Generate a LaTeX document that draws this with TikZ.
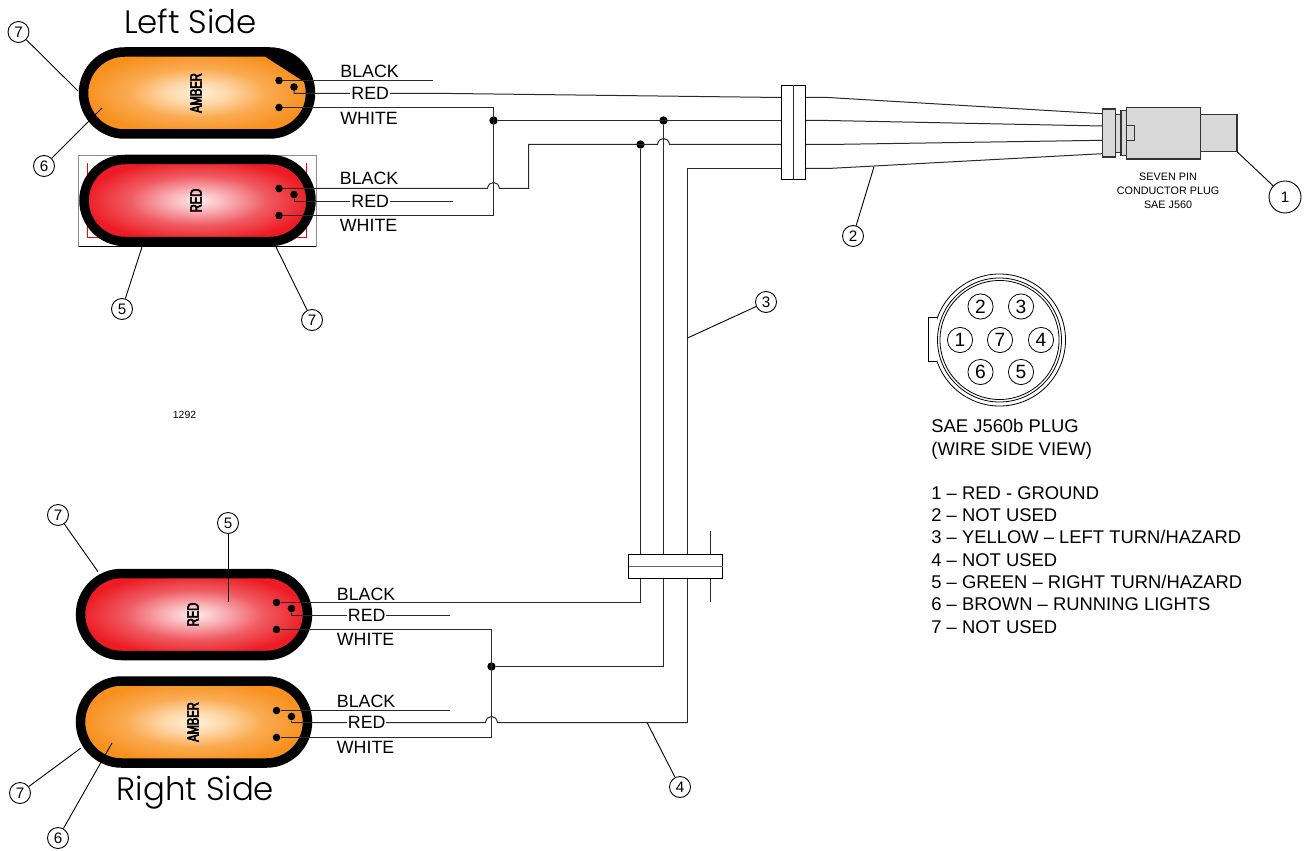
\documentclass[tikz,border=0pt]{standalone}
\usepackage{fontspec}
\usepackage{tikz}
\setmainfont{Liberation Sans}
\newfontfamily\gothicfont{Poppins Light}
\newfontfamily\lampfont[FakeStretch=0.68,FakeBold=4]{Liberation Sans}
\definecolor{wirecol}{HTML}{2A2A2A}
\definecolor{plugcol}{HTML}{D9D9D9}
\pgfdeclareradialshading{amberglow}{\pgfpointorigin}{rgb(0bp)=(1,.945,.87);rgb(7bp)=(.995,.84,.65);rgb(15bp)=(.98,.67,.32);rgb(25bp)=(.97,.565,.12);rgb(50bp)=(.97,.565,.12)}
\pgfdeclareradialshading{redglow}{\pgfpointorigin}{rgb(0bp)=(.995,.93,.935);rgb(7bp)=(.97,.68,.70);rgb(15bp)=(.94,.36,.39);rgb(25bp)=(.93,.11,.14);rgb(50bp)=(.93,.11,.14)}
\newcommand{\hopat}[2]{-- (#1-6,#2) .. controls (#1-5,#2-8) and (#1+5,#2-8) .. (#1+6,#2) --}
\tikzset{
  lamp/.style={draw=black,line width=4.75pt,rounded corners=20.5pt,minimum width=113.5pt,
    minimum height=41pt,inner sep=0pt,outer sep=0pt},
  amberlamp/.style={lamp,shade,shading=amberglow},
  redlamp/.style={lamp,shade,shading=redglow},
  lamptext/.style={rotate=90,font=\lampfont\fontsize{8.2}{8.2}\selectfont},
  wire/.style={draw=wirecol,line width=0.5pt},
  leader/.style={draw=black,line width=0.45pt},
  contact/.style={circle,fill=black,inner sep=0pt,minimum size=3.8pt},
  junction/.style={circle,fill=black,inner sep=0pt,minimum size=4.2pt},
  balloon/.style={circle,draw=black,line width=0.45pt,fill=white,inner sep=0pt,minimum size=10.5pt,
    font=\fontsize{7.6}{8}\selectfont},
  pin/.style={circle,draw=black,line width=0.4pt,inner sep=0pt,minimum size=12.6pt,
    font=\fontsize{9.6}{10}\selectfont},
  wirename/.style={anchor=west,inner sep=0pt,font=\fontsize{8.9}{10}\selectfont},
  redname/.style={wirename,fill=white,inner xsep=0.5pt},
  clamp/.style={draw=black,line width=0.5pt,fill=white,inner sep=0pt,outer sep=0pt},
  plugpart/.style={draw=black!80,line width=0.6pt,fill=plugcol,inner sep=0pt,outer sep=0pt},
}
\begin{document}
\begin{tikzpicture}[x=0.5pt,y=-0.5pt]
  \useasboundingbox (0,0) rectangle (1304,850);

  \node[anchor=center,font=\gothicfont\fontsize{16.2}{16.2}\selectfont] (lefttitle) at (190.5,21.5) {Left Side};
  \node[anchor=center,font=\gothicfont\fontsize{16.2}{16.2}\selectfont] (righttitle) at (195.5,793) {Right Side};

  % box behind the second lamp
  \draw[draw=black!45,line width=0.35pt] (78.5,155) -- (78.5,246.5);
  \draw[draw=black!45,line width=0.35pt] (78.5,155) -- (316,155) -- (316,246.5);
  \draw[draw=black,line width=0.4pt] (78.5,246.5) -- (316,246.5);
  \draw[draw=red,line width=0.35pt] (87.5,163.5) -- (87.5,237.3) -- (306.5,237.3) -- (306.5,163.5);

  % lamps
  \node[amberlamp] (ambL) at (197,93) {};
  \node[redlamp] (redL) at (197.5,200.5) {};
  \node[redlamp] (redR) at (194,614.5) {};
  \node[amberlamp] (ambR) at (194,722) {};
  \fill[black] (265,56.5) -- (306,83) -- (306,70) -- (296,62) -- (283,56.5) -- cycle;
  \node[lamptext] (ambLt) at (196,93) {AMBER};
  \node[lamptext] (redLt) at (196,200.5) {RED};
  \node[lamptext] (redRt) at (193,614.5) {RED};
  \node[lamptext] (ambRt) at (193,722) {AMBER};

  % contacts
  \node[contact] (bL1) at (279,80.5) {};
  \node[contact] (rL1) at (294,87) {};
  \node[contact] (wL1) at (279,107.5) {};
  \node[contact] (bL2) at (279,188.5) {};
  \node[contact] (rL2) at (294,194.5) {};
  \node[contact] (wL2) at (279,215.5) {};
  \node[contact] (bR1) at (276.5,602.5) {};
  \node[contact] (rR1) at (291.5,608.5) {};
  \node[contact] (wR1) at (276.5,629.5) {};
  \node[contact] (bR2) at (276.5,710.5) {};
  \node[contact] (rR2) at (291.5,716.5) {};
  \node[contact] (wR2) at (276.5,737.5) {};

  % junctions
  \node[junction] (j1) at (493.5,120.5) {};
  \node[junction] (j2) at (663.5,120.5) {};
  \node[junction] (j3) at (640.5,144.5) {};
  \node[junction] (j4) at (491.5,666.5) {};

  % ends of wires
  \coordinate (bL1e) at (433,80.5);
  \coordinate (rL1k) at (296,93.5);
  \coordinate (rL2k) at (296,201.5);
  \coordinate (rR1k) at (294,615.5);
  \coordinate (rR2k) at (294,722.5);
  \coordinate (rL1m) at (452,93.5);
  \coordinate (rL2e) at (452.5,201.5);
  \coordinate (rR1e) at (450,615.5);
  \coordinate (bR2e) at (450,710.5);
  \coordinate (gl1) at (781,97.5);
  \coordinate (gl2) at (781,120.5);
  \coordinate (gl3) at (781,144.5);
  \coordinate (gl4) at (781,168.5);
  \coordinate (gm1) at (828,97.5);
  \coordinate (gm2) at (828,120.5);
  \coordinate (gm3) at (828,144.5);
  \coordinate (gm4) at (828,168.5);
  \coordinate (pl1) at (1102,113.7);
  \coordinate (pl2) at (1102,126);
  \coordinate (pl3) at (1102,140.3);
  \coordinate (pl4) at (1102,153.7);
  \coordinate (c1b) at (640.5,602.5);
  \coordinate (c2b) at (663.5,666.5);
  \coordinate (c3t) at (687.5,168.5);
  \coordinate (c3b) at (687.5,722.5);
  \coordinate (c4t) at (710.5,531);
  \coordinate (c4b) at (710.5,602);
  \coordinate (k1) at (528.5,188.5);
  \coordinate (k2) at (528.5,144.5);

  % wires
  \draw[wire] (bL1) to (bL1e);
  \draw[wire] (rL1) |- (rL1k) to (rL1m) to (gl1);
  \draw[wire] (gl1) to (gm1) to (pl1);
  \draw[wire] (wL1) -| (493.5,215.5) -- (wL2);
  \draw[wire] (j1) to (gl2);
  \draw[wire] (gl2) to (gm2) to (pl2);
  \draw[wire] (bL2) \hopat{493.5}{188.5} (k1) to (k2) \hopat{663.5}{144.5} (gl3);
  \draw[wire] (gl3) to (gm3) to (pl3);
  \draw[wire] (rL2) |- (rL2k) to (rL2e);
  \draw[wire] (c3t) to (gl4);
  \draw[wire] (gl4) to (gm4) to (pl4);
  \draw[wire] (j3) to (c1b) to (bR1);
  \draw[wire] (j2) to (c2b) to (j4);
  \draw[wire] (c3t) to (c3b);
  \draw[wire] (rR2k) \hopat{491.5}{722.5} (c3b);
  \draw[wire] (rR2) |- (rR2k);
  \draw[wire] (wR1) -| (491.5,737.5) -- (wR2);
  \draw[wire] (rR1) |- (rR1k) to (rR1e);
  \draw[wire] (bR2) to (bR2e);
  \draw[wire] (c4t) to (c4b);

  % clamps
  \node[clamp,minimum width=12pt,minimum height=47pt] (clampA) at (793.5,132.5) {};
  \draw[wire] (clampA.north) to (clampA.south);
  \node[clamp,minimum width=47pt,minimum height=12pt] (clampB) at (675.5,566.5) {};
  \draw[wire,draw=black!60] (clampB.west) to (clampB.east);

  % plug
  \node[plugpart,minimum width=18.4pt,minimum height=18.4pt] (plugtail) at (1218.6,133.3) {};
  \node[plugpart,minimum width=3pt,minimum height=19pt] (plugring) at (1118,133.3) {};
  \node[plugpart,minimum width=2.7pt,minimum height=22.3pt] (plugneck) at (1123.6,133) {};
  \node[plugpart,minimum width=37pt,minimum height=25.8pt] (plugbody) at (1163.3,133.2) {};
  \node[plugpart,minimum width=6.5pt,minimum height=24pt] (plugcap) at (1108.8,133) {};
  \node[plugpart,minimum width=4.2pt,minimum height=7.5pt,anchor=west] (plugtab) at (plugbody.west) {};
  \node[align=center,font=\fontsize{5.4}{6.9}\selectfont] (plugname) at (1168,190.5) {SEVEN PIN\\CONDUCTOR PLUG\\SAE J560};

  % wire names
  \node[wirename] (lb1) at (340,71.5) {BLACK};
  \node[redname] (lr1) at (350,93.5) {RED};
  \node[wirename] (lw1) at (340,118.5) {WHITE};
  \node[wirename] (lb2) at (339.5,178.5) {BLACK};
  \node[redname] (lr2) at (350,201.5) {RED};
  \node[wirename] (lw2) at (339.5,225.5) {WHITE};
  \node[wirename] (lb3) at (336.5,594) {BLACK};
  \node[redname] (lr3) at (346.5,615.5) {RED};
  \node[wirename] (lw3) at (336.5,639) {WHITE};
  \node[wirename] (lb4) at (336.5,701) {BLACK};
  \node[redname] (lr4) at (346.5,722.5) {RED};
  \node[wirename] (lw4) at (336.5,747) {WHITE};

  \node[font=\fontsize{5.2}{6}\selectfont] (drawno) at (184.5,415) {1292};

  % numbered leaders
  \node[balloon] (n7a) at (18.5,32) {7};
  \node[balloon] (n6a) at (44,166) {6};
  \node[balloon] (n5a) at (122,309) {5};
  \node[balloon] (n7b) at (312,320) {7};
  \node[balloon] (n7c) at (58,515) {7};
  \node[balloon] (n5b) at (228,523) {5};
  \node[balloon] (n7d) at (20,793) {7};
  \node[balloon] (n6b) at (58,838) {6};
  \node[balloon] (n4) at (680,787) {4};
  \node[balloon] (n3) at (766,302) {3};
  \node[balloon] (n2) at (853,236) {2};
  \node[balloon,minimum size=16pt] (n1) at (1285,197) {1};
  \coordinate (t7a) at (78,91);
  \coordinate (t6a) at (102,108);
  \coordinate (t5a) at (142,247);
  \coordinate (t7b) at (276,247);
  \coordinate (t7c) at (98,571.7);
  \coordinate (t5b) at (228,601.7);
  \coordinate (t7d) at (81,748);
  \coordinate (t6b) at (112,743);
  \coordinate (t4) at (647,722.5);
  \coordinate (t3) at (687.5,338);
  \coordinate (t2) at (874,166.7);
  \draw[leader] (n7a) to (t7a);
  \draw[leader] (n6a) to (t6a);
  \draw[leader] (n5a) to (t5a);
  \draw[leader] (n7b) to (t7b);
  \draw[leader] (n7c) to (t7c);
  \draw[leader] (n5b) to (t5b);
  \draw[leader] (n7d) to (t7d);
  \draw[leader] (n6b) to (t6b);
  \draw[leader] (n4) to (t4);
  \draw[leader] (n3) to (t3);
  \draw[leader] (n2) to (t2);
  \draw[leader] (n1) to (plugtail.south east);

  % plug seen from the wire side
  \node[circle,draw=black,line width=0.4pt,fill=white,inner sep=0pt,minimum size=66pt] (faceA) at (999.5,340) {};
  \draw[draw=black,line width=0.4pt,fill=white] (937,317.3) -- (928,317.3) -- (928,361.7) -- (937,361.7);
  \node[circle,draw=black,line width=0.4pt,inner sep=0pt,minimum size=62pt] (faceB) at (999.5,340) {};
  \node[circle,draw=black,line width=0.4pt,inner sep=0pt,minimum size=59.5pt] (faceC) at (999.5,340) {};
  \node[pin] (p1) at (960,340) {1};
  \node[pin] (p2) at (980.5,306.5) {2};
  \node[pin] (p3) at (1021,306.5) {3};
  \node[pin] (p7) at (1000,340) {7};
  \node[pin] (p4) at (1041,340) {4};
  \node[pin] (p6) at (980.5,372) {6};
  \node[pin] (p5) at (1021,372) {5};

  \node[anchor=north west,align=left,inner sep=0pt,font=\fontsize{9.2}{11.15}\selectfont] (planname) at (931,419)
    {SAE J560b PLUG\\(WIRE SIDE VIEW)};
  \node[anchor=north west,align=left,inner sep=0pt,font=\fontsize{9.2}{11.15}\selectfont] (pinlist) at (931,486)
    {1 -- RED - GROUND\\2 -- NOT USED\\3 -- YELLOW -- LEFT TURN/HAZARD\\4 -- NOT USED\\5 -- GREEN -- RIGHT TURN/HAZARD\\6 -- BROWN -- RUNNING LIGHTS\\7 -- NOT USED};
\end{tikzpicture}
\end{document}
